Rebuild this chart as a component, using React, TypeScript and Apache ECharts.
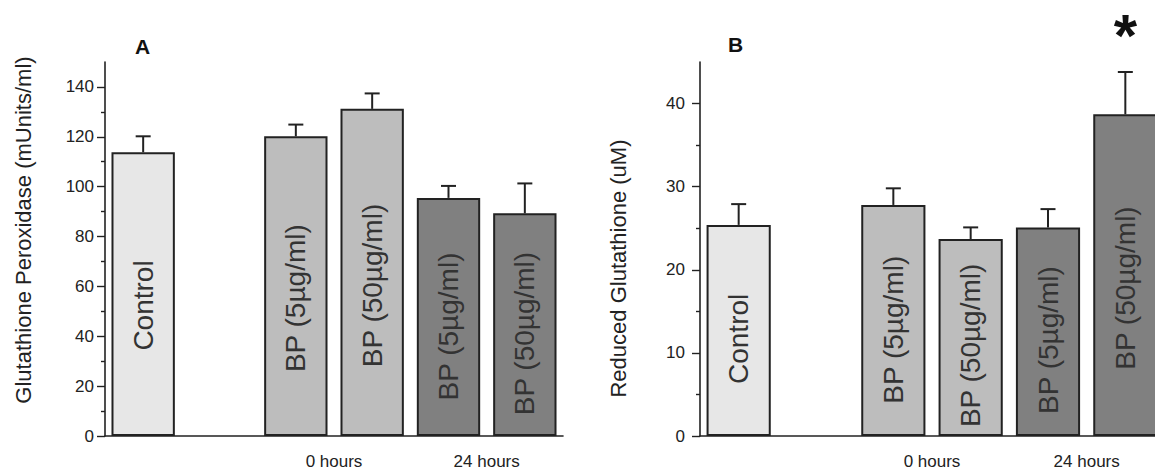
import React, { useEffect, useRef } from "react";
import * as echarts from "echarts";

// ---- data ----
const categories = ["Control", "", "BP5 0h", "BP50 0h", "BP5 24h", "BP50 24h"];
const barLabels = ["Control", "", "BP (5µg/ml)", "BP (50µg/ml)", "BP (5µg/ml)", "BP (50µg/ml)"];
const groupLabels = ["", "0 hours", "24 hours"];
const barColors = ["#e7e7e7", "#ffffff", "#bdbdbd", "#bdbdbd", "#808080", "#808080"];

// Panel A: Glutathione Peroxidase (mUnits/ml)
const valuesA: (number | null)[] = [113.8, null, 120.2, 131.2, 95.5, 89.3];
const errorsA: (number | null)[] = [6.4, null, 4.7, 6.2, 4.8, 12.0];
const majorTicksA = [0, 20, 40, 60, 80, 100, 120, 140];
const minorTicksA = [10, 30, 50, 70, 90, 110, 130];
const maxA = 150;

// Panel B: Reduced Glutathione (uM)
const valuesB: (number | null)[] = [25.4, null, 27.8, 23.7, 25.1, 38.7];
const errorsB: (number | null)[] = [2.5, null, 2.0, 1.4, 2.2, 5.1];
const significanceB = ["", "", "", "", "", "*"];
const majorTicksB = [0, 10, 20, 30, 40];
const minorTicksB = [5, 15, 25, 35];
const maxB = 45;

const FONT = "Liberation Sans, Arial, sans-serif";
const INK = "#222";

function buildPanel(
  idx: number,
  values: (number | null)[],
  errors: (number | null)[],
  marks: string[],
  max: number,
  major: number[],
  minor: number[],
  yName: string,
  namePadding: number[],
  labelMargin: number
) {
  const xMain = idx * 2;
  const yMain = idx * 2;
  const xAxes = [
    {
      type: "category",
      gridIndex: idx,
      data: categories,
      position: "bottom",
      axisLine: { show: true, lineStyle: { color: INK, width: 1.6 } },
      axisTick: { show: false },
      axisLabel: { show: false },
    },
    {
      type: "category",
      gridIndex: idx,
      data: groupLabels,
      position: "bottom",
      offset: 0,
      axisLine: { show: false },
      axisTick: { show: false },
      axisLabel: { show: true, margin: 17, fontSize: 17, color: INK, fontFamily: FONT },
    },
  ];
  const yAxes = [
    {
      type: "value",
      gridIndex: idx,
      min: 0,
      max,
      position: "left",
      splitLine: { show: false },
      axisLine: { show: true, lineStyle: { color: INK, width: 1.6 } },
      axisTick: { show: true, customValues: major, length: 8, lineStyle: { color: INK, width: 1.4 } },
      axisLabel: { show: true, customValues: major, margin: labelMargin, fontSize: 17, color: INK, fontFamily: FONT },
      name: yName,
      nameLocation: "middle",
      nameRotate: 90,
      nameGap: 71,
      nameTextStyle: { fontSize: 22, color: INK, fontFamily: FONT, padding: namePadding },
    },
    {
      type: "value",
      gridIndex: idx,
      min: 0,
      max,
      position: "left",
      offset: 0,
      splitLine: { show: false },
      axisLine: { show: false },
      axisTick: { show: true, customValues: minor, length: 4, lineStyle: { color: INK, width: 1.4 } },
      axisLabel: { show: false },
    },
  ];
  const barData = values.map((v, i) => ({
    value: v === null ? "-" : v,
    itemStyle: { color: barColors[i], borderColor: INK, borderWidth: 2 },
    label: { formatter: barLabels[i] },
  }));
  const errData = values
    .map((v, i) => (v === null ? null : [i, v, errors[i] as number, i]))
    .filter((d) => d !== null);
  const series = [
    {
      type: "bar",
      xAxisIndex: xMain,
      yAxisIndex: yMain,
      data: barData,
      barWidth: "83%",
      label: {
        show: true,
        position: ["50%", "54%"],
        rotate: 90,
        align: "center",
        verticalAlign: "middle",
        fontSize: 28,
        color: "#333",
        fontFamily: FONT,
      },
      z: 2,
    },
    {
      type: "custom",
      xAxisIndex: xMain,
      yAxisIndex: yMain,
      data: errData,
      encode: { x: 0, y: 1 },
      z: 3,
      renderItem: (params: any, api: any) => {
        const x = api.value(0);
        const v = api.value(1);
        const e = api.value(2);
        const i = api.value(3);
        const base = api.coord([x, v]);
        const top = api.coord([x, v + e]);
        const cap = 15;
        const style = { stroke: INK, lineWidth: 2 };
        const children: any[] = [
          { type: "line", shape: { x1: base[0], y1: base[1], x2: top[0], y2: top[1] }, style },
          { type: "line", shape: { x1: top[0] - cap / 2, y1: top[1], x2: top[0] + cap / 2, y2: top[1] }, style },
        ];
        const m = marks[i];
        if (m) {
          children.push({
            type: "text",
            style: {
              text: m,
              x: top[0],
              y: top[1] - 36,
              align: "center",
              verticalAlign: "middle",
              font: "bold 60px " + FONT,
              fill: "#111",
            },
          });
        }
        return { type: "group", children };
      },
    },
  ];
  return { xAxes, yAxes, series };
}

export default function App() {
  const ref = useRef<HTMLDivElement>(null);
  useEffect(() => {
    if (!ref.current) return;
    const chart = echarts.init(ref.current, null, { renderer: "svg" });
    const a = buildPanel(0, valuesA, errorsA, ["", "", "", "", "", ""], maxA, majorTicksA, minorTicksA,
      "Glutathione Peroxidase (mUnits/ml)", [0, 0, 0, 38], 11);
    const b = buildPanel(1, valuesB, errorsB, significanceB, maxB, majorTicksB, minorTicksB,
      "Reduced Glutathione (uM)", [0, 39, 0, 0], 15);
    chart.setOption({
      animation: false,
      backgroundColor: "#ffffff",
      textStyle: { fontFamily: FONT },
      grid: [
        { left: 105, top: 62, width: 458, height: 374 },
        { left: 700, top: 62, width: 464, height: 374 },
      ],
      xAxis: [...a.xAxes, ...b.xAxes],
      yAxis: [...a.yAxes, ...b.yAxes],
      series: [...a.series, ...b.series],
      graphic: [
        { type: "text", left: 135, top: 36, style: { text: "A", font: "bold 21px " + FONT, fill: "#111" } },
        { type: "text", left: 728, top: 34, style: { text: "B", font: "bold 21px " + FONT, fill: "#111" } },
      ],
    });
    return () => chart.dispose();
  }, []);
  return (
    <div style={{ position: "absolute", left: 0, top: 0, width: 1155, height: 471, overflow: "hidden", background: "#fff" }}>
      <div ref={ref} style={{ width: 1170, height: 471 }} />
    </div>
  );
}
